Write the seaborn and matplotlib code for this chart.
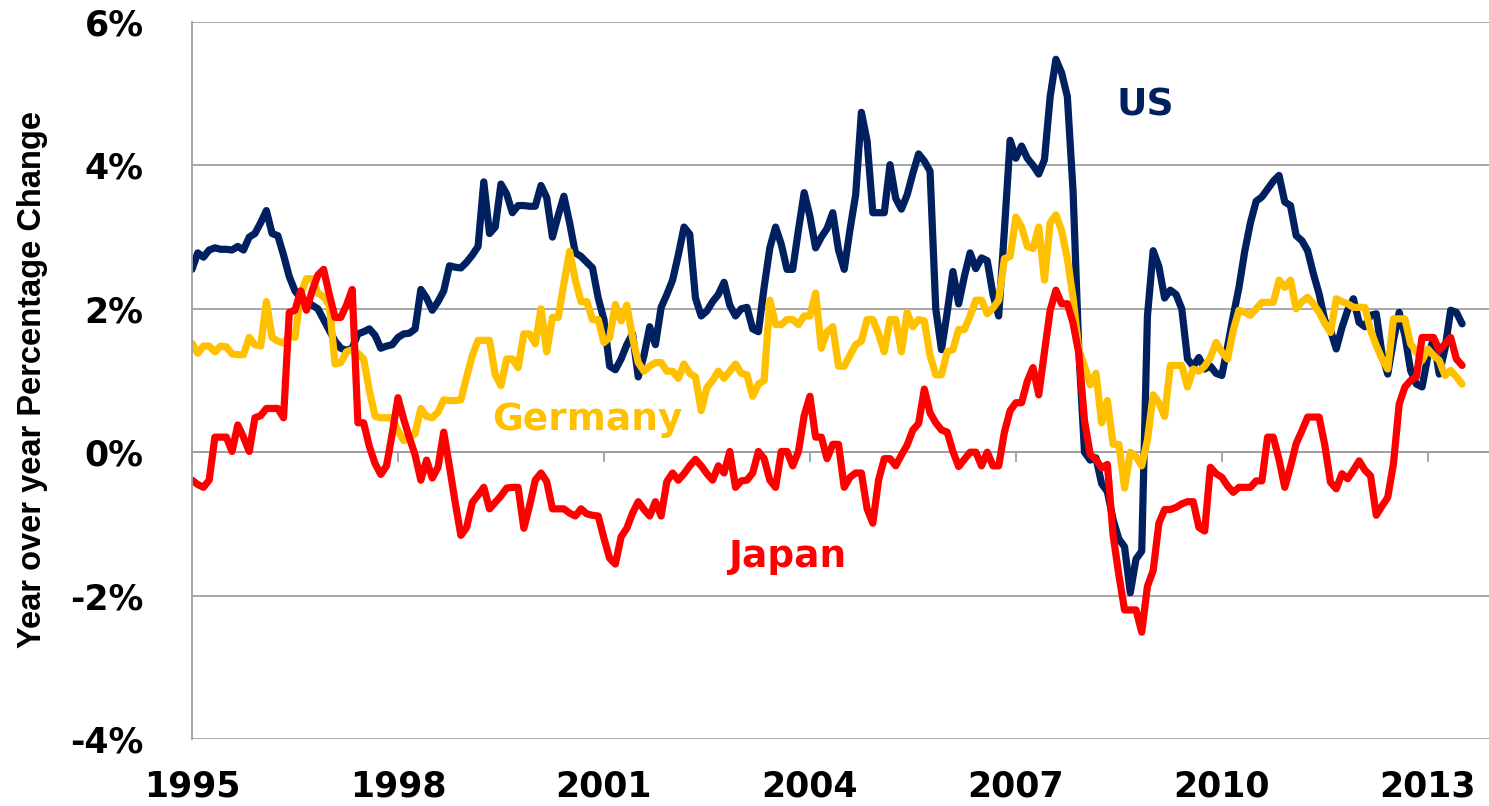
import matplotlib
matplotlib.use("Agg")
import matplotlib.pyplot as plt
from matplotlib import font_manager
import numpy as np
import pandas as pd
import seaborn as sns

# year-over-year CPI change (%), monthly from Jan 1995
us = [
    2.55, 2.78, 2.72, 2.82, 2.85, 2.83, 2.83, 2.82, 2.87, 2.82, 3.00, 3.05,
    3.20, 3.37, 3.05, 3.02, 2.75, 2.45, 2.25, 2.15, 2.10, 2.05, 2.00, 1.85,
    1.70, 1.55, 1.45, 1.42, 1.45, 1.65, 1.68, 1.72, 1.63, 1.45, 1.48, 1.50,
    1.60, 1.65, 1.66, 1.72, 2.27, 2.15, 1.98, 2.10, 2.25, 2.60, 2.58, 2.57,
    2.65, 2.75, 2.87, 3.77, 3.05, 3.14, 3.74, 3.60, 3.34, 3.44, 3.44, 3.43,
    3.43, 3.72, 3.55, 3.00, 3.30, 3.57, 3.20, 2.78, 2.73, 2.65, 2.57, 2.15,
    1.85, 1.20, 1.15, 1.30, 1.50, 1.65, 1.05, 1.35, 1.75, 1.50, 2.02, 2.20,
    2.40, 2.75, 3.14, 3.04, 2.15, 1.90, 1.97, 2.10, 2.20, 2.37, 2.05, 1.90,
    2.00, 2.02, 1.72, 1.68, 2.30, 2.85, 3.14, 2.90, 2.55, 2.55, 3.10, 3.62,
    3.29, 2.85, 3.00, 3.12, 3.34, 2.82, 2.55, 3.10, 3.59, 4.74, 4.34, 3.34,
    3.34, 3.34, 4.01, 3.54, 3.39, 3.59, 3.89, 4.16, 4.06, 3.92, 2.00, 1.43,
    1.95, 2.52, 2.07, 2.45, 2.78, 2.56, 2.71, 2.67, 2.20, 1.90, 3.10, 4.35,
    4.10, 4.27, 4.10, 4.00, 3.88, 4.08, 4.96, 5.48, 5.29, 4.96, 3.64, 1.43,
    0.00, -0.11, -0.08, -0.44, -0.55, -0.94, -1.21, -1.32, -1.96, -1.49, -1.38, 1.90,
    2.81, 2.59, 2.15, 2.26, 2.20, 2.00, 1.30, 1.20, 1.32, 1.16, 1.20, 1.10,
    1.07, 1.47, 1.90, 2.30, 2.80, 3.20, 3.50, 3.56, 3.67, 3.78, 3.86, 3.49,
    3.44, 3.02, 2.95, 2.81, 2.49, 2.21, 1.84, 1.70, 1.44, 1.74, 1.98, 2.14,
    1.81, 1.75, 1.91, 1.93, 1.37, 1.09, 1.56, 1.95, 1.63, 1.14, 0.95, 0.91,
    1.33, 1.58, 1.09, 1.44, 1.98, 1.95, 1.79,
]
germany = [
    1.52, 1.38, 1.48, 1.48, 1.40, 1.48, 1.47, 1.37, 1.36, 1.36, 1.60, 1.50,
    1.48, 2.10, 1.60, 1.55, 1.52, 1.63, 1.60, 2.20, 2.42, 2.42, 2.22, 2.17,
    2.05, 1.23, 1.25, 1.40, 1.43, 1.38, 1.30, 0.86, 0.50, 0.48, 0.48, 0.48,
    0.30, 0.16, 0.20, 0.26, 0.61, 0.50, 0.48, 0.56, 0.73, 0.72, 0.72, 0.73,
    1.05, 1.35, 1.56, 1.56, 1.56, 1.08, 0.93, 1.30, 1.30, 1.18, 1.65, 1.65,
    1.51, 2.00, 1.40, 1.88, 1.88, 2.35, 2.80, 2.40, 2.10, 2.10, 1.85, 1.85,
    1.53, 1.60, 2.06, 1.83, 2.05, 1.60, 1.25, 1.13, 1.20, 1.25, 1.25, 1.13,
    1.13, 1.03, 1.23, 1.10, 1.05, 0.58, 0.90, 1.00, 1.13, 1.03, 1.13, 1.23,
    1.10, 1.08, 0.78, 0.95, 1.00, 2.12, 1.78, 1.78, 1.85, 1.85, 1.78, 1.90,
    1.90, 2.22, 1.45, 1.68, 1.75, 1.20, 1.20, 1.35, 1.50, 1.55, 1.85, 1.85,
    1.65, 1.40, 1.85, 1.85, 1.40, 1.95, 1.75, 1.85, 1.83, 1.35, 1.08, 1.08,
    1.40, 1.43, 1.71, 1.71, 1.90, 2.12, 2.12, 1.93, 2.01, 2.12, 2.70, 2.73,
    3.28, 3.14, 2.87, 2.84, 3.14, 2.40, 3.20, 3.31, 3.09, 2.70, 2.15, 1.43,
    1.20, 0.94, 1.10, 0.41, 0.72, 0.11, 0.11, -0.50, 0.00, -0.06, -0.19, 0.17,
    0.80, 0.69, 0.50, 1.21, 1.21, 1.21, 0.91, 1.16, 1.13, 1.20, 1.32, 1.53,
    1.40, 1.30, 1.70, 1.98, 1.95, 1.91, 2.00, 2.09, 2.09, 2.09, 2.40, 2.30,
    2.40, 2.00, 2.10, 2.16, 2.07, 1.95, 1.80, 1.67, 2.14, 2.10, 2.07, 2.02,
    2.02, 2.02, 1.70, 1.49, 1.30, 1.16, 1.86, 1.86, 1.86, 1.51, 1.40, 1.28,
    1.44, 1.35, 1.28, 1.07, 1.14, 1.05, 0.95,
]
japan = [
    -0.39, -0.45, -0.49, -0.39, 0.21, 0.21, 0.21, 0.01, 0.38, 0.21, 0.01, 0.48,
    0.51, 0.61, 0.61, 0.61, 0.48, 1.95, 1.98, 2.25, 1.98, 2.25, 2.47, 2.55,
    2.20, 1.88, 1.88, 2.05, 2.27, 0.41, 0.41, 0.08, -0.16, -0.31, -0.19, 0.26,
    0.76, 0.46, 0.20, -0.04, -0.39, -0.11, -0.36, -0.21, 0.28, -0.20, -0.70, -1.16,
    -1.05, -0.70, -0.60, -0.49, -0.79, -0.70, -0.61, -0.50, -0.49, -0.49, -1.06, -0.75,
    -0.39, -0.29, -0.41, -0.79, -0.79, -0.79, -0.85, -0.89, -0.79, -0.86, -0.88, -0.89,
    -1.20, -1.48, -1.56, -1.18, -1.06, -0.85, -0.69, -0.80, -0.89, -0.69, -0.89, -0.41,
    -0.29, -0.39, -0.30, -0.19, -0.10, -0.19, -0.30, -0.39, -0.19, -0.29, 0.01, -0.49,
    -0.40, -0.39, -0.29, 0.01, -0.09, -0.39, -0.49, 0.01, 0.01, -0.19, 0.01, 0.51,
    0.78, 0.21, 0.21, -0.09, 0.11, 0.11, -0.49, -0.35, -0.29, -0.29, -0.79, -0.99,
    -0.39, -0.09, -0.09, -0.19, -0.04, 0.10, 0.31, 0.40, 0.88, 0.55, 0.41, 0.31,
    0.28, 0.01, -0.20, -0.10, 0.00, 0.00, -0.19, 0.00, -0.19, -0.19, 0.28, 0.58,
    0.69, 0.69, 0.99, 1.18, 0.80, 1.40, 1.98, 2.26, 2.07, 2.07, 1.80, 1.38,
    0.44, -0.03, -0.10, -0.22, -0.17, -1.16, -1.71, -2.20, -2.20, -2.20, -2.51, -1.87,
    -1.65, -0.99, -0.80, -0.80, -0.77, -0.72, -0.69, -0.69, -1.05, -1.10, -0.21, -0.30,
    -0.35, -0.47, -0.56, -0.49, -0.49, -0.49, -0.40, -0.40, 0.21, 0.21, -0.10, -0.49,
    -0.20, 0.12, 0.30, 0.49, 0.49, 0.49, 0.10, -0.42, -0.51, -0.30, -0.37, -0.25,
    -0.12, -0.25, -0.33, -0.88, -0.75, -0.63, -0.16, 0.67, 0.91, 1.00, 1.05, 1.60,
    1.60, 1.60, 1.42, 1.51, 1.60, 1.30, 1.21,
]

countries = ["US", "Germany", "Japan"]
colors = {"US": "#002060", "Germany": "#FFC000", "Japan": "#FF0000"}
year_ticks = [1995, 1998, 2001, 2004, 2007, 2010, 2013]
pct_ticks = [-4, -2, 0, 2, 4, 6]

frames = []
for name, vals in zip(countries, [us, germany, japan]):
    frames.append(pd.DataFrame({"date": 1995 + np.arange(len(vals)) / 12,
                                "value": vals, "country": name}))
df = pd.concat(frames, ignore_index=True)

sns.set_style("white")
plt.rcParams["font.family"] = ["DejaVu Sans"]
plt.rcParams["text.color"] = "black"
grey = "#A0A0A0"

fig = plt.figure(figsize=(14.89, 8.06), dpi=100)
ax = fig.add_axes([192 / 1489, 1 - 739 / 806, 1 - 192 / 1489, 717 / 806])

sns.lineplot(data=df, x="date", y="value", hue="country", hue_order=countries,
             palette=colors, linewidth=5.2, legend=False, ax=ax,
             solid_joinstyle="round", solid_capstyle="round")

ax.set_xlim(1995, 1995 + 226.7 / 12)
ax.set_ylim(-4, 6)
ax.set_yticks(pct_ticks)
ax.set_yticklabels([f"{v}%" for v in pct_ticks], fontweight="bold")
ax.set_xticks(year_ticks)
ax.set_xticklabels([str(y) for y in year_ticks], fontweight="bold")
ax.yaxis.grid(True, color=grey, linewidth=1.3)
ax.xaxis.grid(False)
ax.set_axisbelow(True)
for side in ["top", "right", "bottom"]:
    ax.spines[side].set_visible(False)
ax.spines["left"].set_color(grey)
ax.spines["left"].set_linewidth(1.3)
ax.tick_params(axis="y", length=10.8, width=1.3, color=grey, pad=24,
               labelsize=25, labelcolor="black")
ax.tick_params(axis="x", length=0, pad=22, labelsize=25, labelcolor="black")
ax.set_xlabel("")
ax.set_ylabel("")

# small tick marks hanging from the 0% line
sec = ax.secondary_xaxis(0.4)
sec.set_xticks(year_ticks)
sec.tick_params(axis="x", direction="out", length=7.2, width=1.3, color=grey,
                labelbottom=False, labeltop=False)
for sp in sec.spines.values():
    sp.set_color(grey)
    sp.set_linewidth(1.3)

# series labels
label_kw = dict(fontsize=27, fontweight="bold", ha="center", va="baseline")
ax.text(2008.886, 4.70, "US", color=colors["US"], **label_kw)
ax.text(2000.755, 0.31, "Germany", color=colors["Germany"], **label_kw)
ax.text(2003.664, -1.60, "Japan", color=colors["Japan"], **label_kw)

names = {f.name for f in font_manager.fontManager.ttflist}
if "Liberation Sans Narrow" in names:
    yfont, ysize = "Liberation Sans Narrow", 28
else:
    yfont, ysize = "Liberation Sans", 23.5
fig.text(33 / 1489, 1 - 380 / 806, "Year over year Percentage Change",
         rotation=90, ha="center", va="center", fontsize=ysize,
         fontweight="bold", color="black", family=[yfont, "DejaVu Sans"])

fig.savefig("out.png", dpi=100)
